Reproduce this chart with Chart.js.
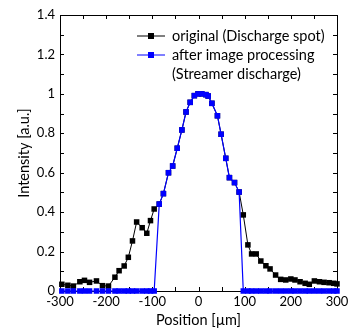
<!DOCTYPE html>
<html>
<head>
<meta charset="utf-8">
<script src="https://cdn.jsdelivr.net/npm/chart.js@4/dist/chart.umd.min.js"></script>
<style>
  html, body { margin: 0; padding: 0; background: #fff; }
</style>
</head>
<body>
<canvas id="chart" width="355" height="329"></canvas>
<script>
// positions along the profile [µm]
const positions = [
  -296, -283, -271, -257, -247, -236, -221, -208, -195, -181, -172, -161, -152, -143, -134,
  -122, -112, -104, -96, -85, -76,
  -65, -56, -46, -36, -27, -18, -9, -1, 7, 16, 21, 29, 41, 49, 59, 67, 78, 88,
  97, 107, 115, 125, 135, 146, 155, 167, 178, 189, 200, 209, 220, 231, 240, 251, 262,
  272, 283, 293, 300
];
// original (Discharge spot)
const original = [
  0.034, 0.029, 0.025, 0.047, 0.054, 0.044, 0.051, 0.027, 0.025, 0.070, 0.103, 0.127, 0.171, 0.254, 0.350,
  0.321, 0.293, 0.357, 0.416, 0.441, 0.494,
  0.600, 0.634, 0.724, 0.817, 0.908, 0.957, 0.991, 1.000, 1.000, 0.996, 0.989, 0.952, 0.889, 0.795, 0.673, 0.575, 0.550, 0.502,
  0.386, 0.234, 0.188, 0.188, 0.152, 0.128, 0.112, 0.081, 0.059, 0.056, 0.061, 0.056, 0.047, 0.039, 0.034, 0.051, 0.047,
  0.044, 0.042, 0.039, 0.036
];
// after image processing (Streamer discharge)
const processed = [
  0, 0, 0, 0, 0, 0, 0, 0, 0, 0, 0, 0, 0, 0, 0,
  0, 0, 0, 0, 0.441, 0.494,
  0.600, 0.634, 0.724, 0.817, 0.908, 0.957, 0.991, 1.000, 1.000, 0.996, 0.989, 0.952, 0.889, 0.795, 0.673, 0.575, 0.550, 0.502,
  0, 0, 0, 0, 0, 0, 0, 0, 0, 0, 0, 0, 0, 0, 0, 0, 0,
  0, 0, 0, 0
];
const xTicks = [-300, -200, -100, 0, 100, 200, 300];
const yTicks = [0, 0.2, 0.4, 0.6, 0.8, 1, 1.2, 1.4];
const legendRows = [
  { color: '#000000', lines: ['original (Discharge spot)'] },
  { color: '#0000ff', lines: ['after image processing', '(Streamer discharge)'] }
];

const FONT = 'Lato, "Open Sans", sans-serif';

function points(ys) {
  return positions.map((x, i) => ({ x: x, y: ys[i] }));
}

// frame + inward ticks on all four sides (major and half-step minor)
const frameTicks = {
  id: 'frameTicks',
  beforeDatasetsDraw(chart) {
    const { ctx, chartArea: a, scales } = chart;
    const len = 4;
    ctx.save();
    ctx.strokeStyle = '#000';
    ctx.lineWidth = 1;
    ctx.beginPath();
    const xs = [];
    for (let i = 0; i < xTicks.length; i++) {
      xs.push(xTicks[i]);
      if (i < xTicks.length - 1) xs.push((xTicks[i] + xTicks[i + 1]) / 2);
    }
    xs.forEach(v => {
      const px = Math.round(scales.x.getPixelForValue(v)) + 0.5;
      ctx.moveTo(px, a.bottom); ctx.lineTo(px, a.bottom - len);
      ctx.moveTo(px, a.top); ctx.lineTo(px, a.top + len);
    });
    const ys = [];
    for (let i = 0; i < yTicks.length; i++) {
      ys.push(yTicks[i]);
      if (i < yTicks.length - 1) ys.push((yTicks[i] + yTicks[i + 1]) / 2);
    }
    ys.forEach(v => {
      const py = Math.round(scales.y.getPixelForValue(v)) + 0.5;
      ctx.moveTo(a.left, py); ctx.lineTo(a.left + len, py);
      ctx.moveTo(a.right, py); ctx.lineTo(a.right - len, py);
    });
    ctx.stroke();
    ctx.strokeRect(Math.round(a.left) + 0.5, Math.round(a.top) + 0.5,
      Math.round(a.right - a.left), Math.round(a.bottom - a.top));
    ctx.restore();
  }
};

// legend with a two-line label for the processed series
const boxLegend = {
  id: 'boxLegend',
  afterDraw(chart) {
    const { ctx, chartArea: a } = chart;
    const x0 = a.left + 77, x1 = a.left + 105, tx = a.left + 112;
    let y = a.top + 21;
    ctx.save();
    ctx.font = '14.5px ' + FONT;
    ctx.textBaseline = 'middle';
    legendRows.forEach(row => {
      ctx.strokeStyle = row.color;
      ctx.fillStyle = row.color;
      ctx.lineWidth = 1;
      ctx.beginPath();
      ctx.moveTo(x0, y); ctx.lineTo(x1, y);
      ctx.stroke();
      const m = (x0 + x1) / 2;
      ctx.fillRect(m - 3, y - 3, 6, 6);
      ctx.fillStyle = '#000';
      row.lines.forEach((t, i) => {
        ctx.fillText(t, tx, y + i * 19);
      });
      y += 19 * row.lines.length;
    });
    ctx.restore();
  }
};

new Chart(document.getElementById('chart'), {
  type: 'line',
  data: {
    datasets: [
      {
        label: 'original (Discharge spot)',
        data: points(original),
        borderColor: '#000000',
        backgroundColor: '#000000',
        borderWidth: 1,
        pointStyle: 'rect',
        pointRadius: 3.9,
        pointBorderWidth: 0,
        order: 1,
        clip: false
      },
      {
        label: 'after image processing (Streamer discharge)',
        data: points(processed),
        borderColor: '#0000ff',
        backgroundColor: '#0000ff',
        borderWidth: 1.2,
        pointStyle: 'rect',
        pointRadius: 3.9,
        pointBorderWidth: 0,
        order: 0,
        clip: false
      }
    ]
  },
  options: {
    responsive: false,
    animation: false,
    layout: { padding: { top: 15, right: 18, left: 0, bottom: 0 } },
    plugins: {
      legend: { display: false },
      tooltip: { enabled: false }
    },
    scales: {
      x: {
        type: 'linear',
        min: -300,
        max: 300,
        afterBuildTicks: s => { s.ticks = xTicks.map(v => ({ value: v })); },
        afterFit: s => { s.height = 38; },
        grid: { display: false, drawTicks: false },
        border: { display: false },
        ticks: {
          color: '#000',
          font: { family: FONT, size: 13 },
          padding: 3,
          maxRotation: 0,
          callback: v => String(v)
        },
        title: {
          display: true,
          text: 'Position [µm]',
          color: '#000',
          font: { family: FONT, size: 14.5 },
          padding: { top: 0, bottom: 0 }
        }
      },
      y: {
        type: 'linear',
        min: 0,
        max: 1.4,
        afterBuildTicks: s => { s.ticks = yTicks.map(v => ({ value: v })); },
        afterFit: s => { s.width = 60; },
        grid: { display: false, drawTicks: false },
        border: { display: false },
        ticks: {
          color: '#000',
          font: { family: FONT, size: 13 },
          padding: 5,
          callback: v => String(v)
        },
        title: {
          display: true,
          text: 'Intensity [a.u.]',
          color: '#000',
          font: { family: FONT, size: 14.5 },
          padding: { top: 16, bottom: 0 }
        }
      }
    }
  },
  plugins: [frameTicks, boxLegend]
});
</script>
</body>
</html>
